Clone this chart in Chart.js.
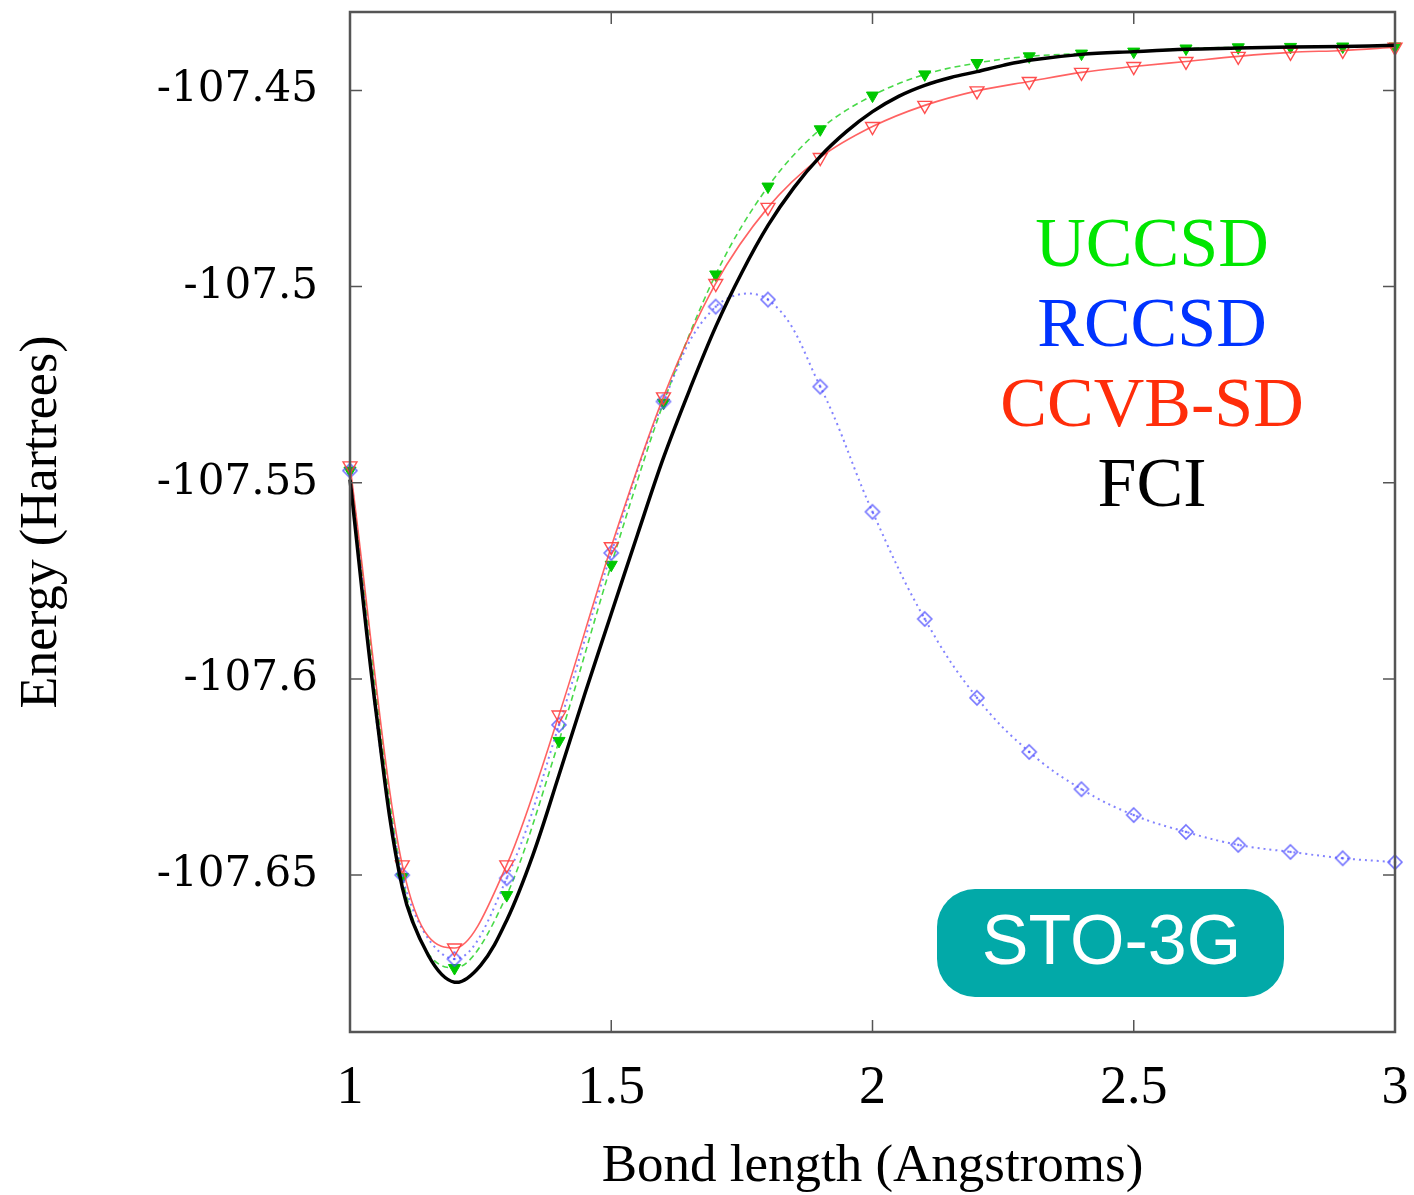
<!DOCTYPE html>
<html>
<head>
<meta charset="utf-8">
<script src="https://cdn.jsdelivr.net/npm/chart.js@4.4.1/dist/chart.umd.min.js"></script>
<style>
  html, body { margin: 0; padding: 0; background: #fff; }
</style>
</head>
<body>
<canvas id="pesChart" width="1414" height="1195"></canvas>
<script>
// bond lengths (Angstroms) for the coupled-cluster series
const bondLengths = [1.0, 1.1, 1.2, 1.3, 1.4, 1.5, 1.6, 1.7, 1.8, 1.9, 2.0,
                     2.1, 2.2, 2.3, 2.4, 2.5, 2.6, 2.7, 2.8, 2.9, 3.0];

// energies in Hartrees
const uccsd = [-107.5469, -107.6505, -107.6737, -107.6551, -107.6158, -107.5709, -107.5296,
               -107.4969, -107.4745, -107.4599, -107.4513, -107.4459, -107.4430, -107.4413,
               -107.4406, -107.4401, -107.4393, -107.4390, -107.4389, -107.4388, -107.4388];
const rccsd = [-107.5469, -107.6500, -107.6714, -107.6508, -107.6117, -107.5679, -107.5293,
               -107.5051, -107.5033, -107.5255, -107.5574, -107.5847, -107.6048, -107.6186,
               -107.6281, -107.6347, -107.6390, -107.6423, -107.6441, -107.6457, -107.6467];
const ccvbsd = [-107.5457, -107.6474, -107.6686, -107.6474, -107.6092, -107.5663, -107.5281,
                -107.4992, -107.4798, -107.4671, -107.4592, -107.4538, -107.4501, -107.4477,
                -107.4454, -107.4439, -107.4426, -107.4413, -107.4403, -107.4398, -107.4390];

// FCI reference curve, sampled more finely
const fciBond = [1.0, 1.05, 1.1, 1.15, 1.2, 1.25, 1.3, 1.35, 1.4, 1.45, 1.5, 1.55, 1.6,
                 1.65, 1.7, 1.75, 1.8, 1.85, 1.9, 1.95, 2.0, 2.05, 2.1, 2.15, 2.2, 2.25,
                 2.3, 2.4, 2.5, 2.6, 2.7, 2.8, 2.9, 3.0];
const fci = [-107.5492, -107.6085, -107.6531, -107.6705, -107.6773, -107.6730, -107.6615,
             -107.6449, -107.6245, -107.6036, -107.5834, -107.5633, -107.5436, -107.5263,
             -107.5102, -107.4964, -107.4844, -107.4747, -107.4668, -107.4605, -107.4554,
             -107.4515, -107.4487, -107.4467, -107.4452, -107.4436, -107.4423, -107.4408,
             -107.4401, -107.4395, -107.4392, -107.4389, -107.4388, -107.4385];

const xTicks = [1, 1.5, 2, 2.5, 3];
const yTicks = [-107.65, -107.6, -107.55, -107.5, -107.45];
const seriesNames = ['UCCSD', 'RCCSD', 'CCVB-SD', 'FCI'];
const badgeText = 'STO-3G';

const toPoints = (xs, ys) => xs.map((x, i) => ({ x: x, y: ys[i] }));

// open diamond with a dot in the middle, like the gnuplot marker
const diamond = document.createElement('canvas');
diamond.width = 18;
diamond.height = 18;
(function () {
  const c = diamond.getContext('2d');
  c.strokeStyle = 'rgba(80, 80, 255, 0.8)';
  c.lineWidth = 1.6;
  c.beginPath();
  c.moveTo(9, 2); c.lineTo(16, 9); c.lineTo(9, 16); c.lineTo(2, 9); c.closePath();
  c.stroke();
  c.fillStyle = 'rgba(80, 80, 255, 0.8)';
  c.beginPath();
  c.arc(9, 9, 1.3, 0, Math.PI * 2);
  c.fill();
})();

const textColors = ['rgb(0, 230, 0)', 'rgb(0, 51, 255)', 'rgb(255, 45, 10)', '#000'];

const decorations = {
  id: 'decorations',
  afterDraw(chart) {
    const { ctx, chartArea: a, scales } = chart;
    ctx.save();
    // frame
    ctx.strokeStyle = '#555';
    ctx.lineWidth = 2.5;
    ctx.strokeRect(a.left, a.top, a.right - a.left, a.bottom - a.top);
    // inward tick marks on all four sides
    ctx.lineWidth = 1.5;
    ctx.beginPath();
    yTicks.forEach(v => {
      const y = scales.y.getPixelForValue(v);
      ctx.moveTo(a.left, y); ctx.lineTo(a.left + 12, y);
      ctx.moveTo(a.right, y); ctx.lineTo(a.right - 12, y);
    });
    xTicks.forEach(v => {
      const x = scales.x.getPixelForValue(v);
      ctx.moveTo(x, a.bottom); ctx.lineTo(x, a.bottom - 12);
      ctx.moveTo(x, a.top); ctx.lineTo(x, a.top + 12);
    });
    ctx.stroke();

    // series names
    ctx.font = '70px "Liberation Serif"';
    ctx.textAlign = 'center';
    ctx.textBaseline = 'alphabetic';
    seriesNames.forEach((name, i) => {
      ctx.fillStyle = textColors[i];
      ctx.fillText(name, a.right - 243, a.top + 254 + i * 80);
    });

    // basis-set badge
    const bx = a.left + 587, by = a.top + 877, bw = 347, bh = 108;
    ctx.fillStyle = '#02a9a8';
    ctx.beginPath();
    ctx.roundRect(bx, by, bw, bh, 38);
    ctx.fill();
    ctx.fillStyle = '#fff';
    ctx.font = '70px "Liberation Sans"';
    ctx.textBaseline = 'middle';
    ctx.fillText(badgeText, bx + bw / 2 + 1, by + bh / 2 + 2);
    ctx.restore();
  }
};

new Chart(document.getElementById('pesChart').getContext('2d'), {
  type: 'line',
  data: {
    datasets: [
      {
        label: seriesNames[3],
        data: toPoints(fciBond, fci),
        borderColor: '#000',
        borderWidth: 3.5,
        pointRadius: 0,
        tension: 0.35,
        order: 0
      },
      {
        label: seriesNames[2],
        data: toPoints(bondLengths, ccvbsd),
        borderColor: 'rgba(255, 70, 70, 0.85)',
        borderWidth: 1.6,
        pointStyle: 'triangle',
        rotation: 180,
        pointRadius: 8,
        pointBorderWidth: 1.4,
        pointBorderColor: 'rgba(255, 60, 60, 0.9)',
        pointBackgroundColor: 'rgba(255, 255, 255, 0)',
        cubicInterpolationMode: 'monotone',
        order: 1
      },
      {
        label: seriesNames[1],
        data: toPoints(bondLengths, rccsd),
        borderColor: 'rgba(90, 90, 255, 0.75)',
        borderWidth: 2,
        borderDash: [2, 4],
        pointStyle: diamond,
        tension: 0.4,
        order: 2
      },
      {
        label: seriesNames[0],
        data: toPoints(bondLengths, uccsd),
        borderColor: 'rgba(40, 210, 40, 0.85)',
        borderWidth: 1.6,
        borderDash: [6, 4],
        pointStyle: 'triangle',
        rotation: 180,
        pointRadius: 7,
        pointBorderWidth: 1,
        pointBorderColor: 'rgb(0, 200, 0)',
        pointBackgroundColor: 'rgb(0, 200, 0)',
        cubicInterpolationMode: 'monotone',
        order: 3
      }
    ]
  },
  options: {
    responsive: false,
    animation: false,
    clip: false,
    layout: { padding: { left: 0, top: 12, right: 19, bottom: 0 } },
    plugins: {
      legend: { display: false },
      tooltip: { enabled: false }
    },
    scales: {
      x: {
        type: 'linear',
        min: 1,
        max: 3,
        afterBuildTicks: s => { s.ticks = xTicks.map(v => ({ value: v })); },
        afterFit: s => { s.height = 163; s.paddingLeft = 0; s.paddingRight = 0; },
        grid: { display: false, drawTicks: false },
        border: { display: false },
        ticks: {
          color: '#000',
          padding: 30,
          font: { family: 'Liberation Serif', size: 54, lineHeight: 1 },
          callback: v => String(v)
        },
        title: {
          display: true,
          text: 'Bond length (Angstroms)',
          color: '#000',
          font: { family: 'Liberation Serif', size: 53, lineHeight: 1 },
          padding: { top: 0, bottom: 1 }
        }
      },
      y: {
        type: 'linear',
        min: -107.69,
        max: -107.43,
        afterBuildTicks: s => { s.ticks = yTicks.map(v => ({ value: v })); },
        afterFit: s => { s.width = 350; s.paddingTop = 0; s.paddingBottom = 0; },
        grid: { display: false, drawTicks: false },
        border: { display: false },
        ticks: {
          color: '#000',
          padding: 32,
          font: { family: 'DejaVu Serif', size: 42, lineHeight: 1 },
          callback: v => String(v)
        },
        title: {
          display: true,
          text: 'Energy (Hartrees)',
          color: '#000',
          font: { family: 'Liberation Serif', size: 52, lineHeight: 1 },
          padding: { top: 16, bottom: 0 }
        }
      }
    }
  },
  plugins: [decorations]
});
</script>
</body>
</html>
